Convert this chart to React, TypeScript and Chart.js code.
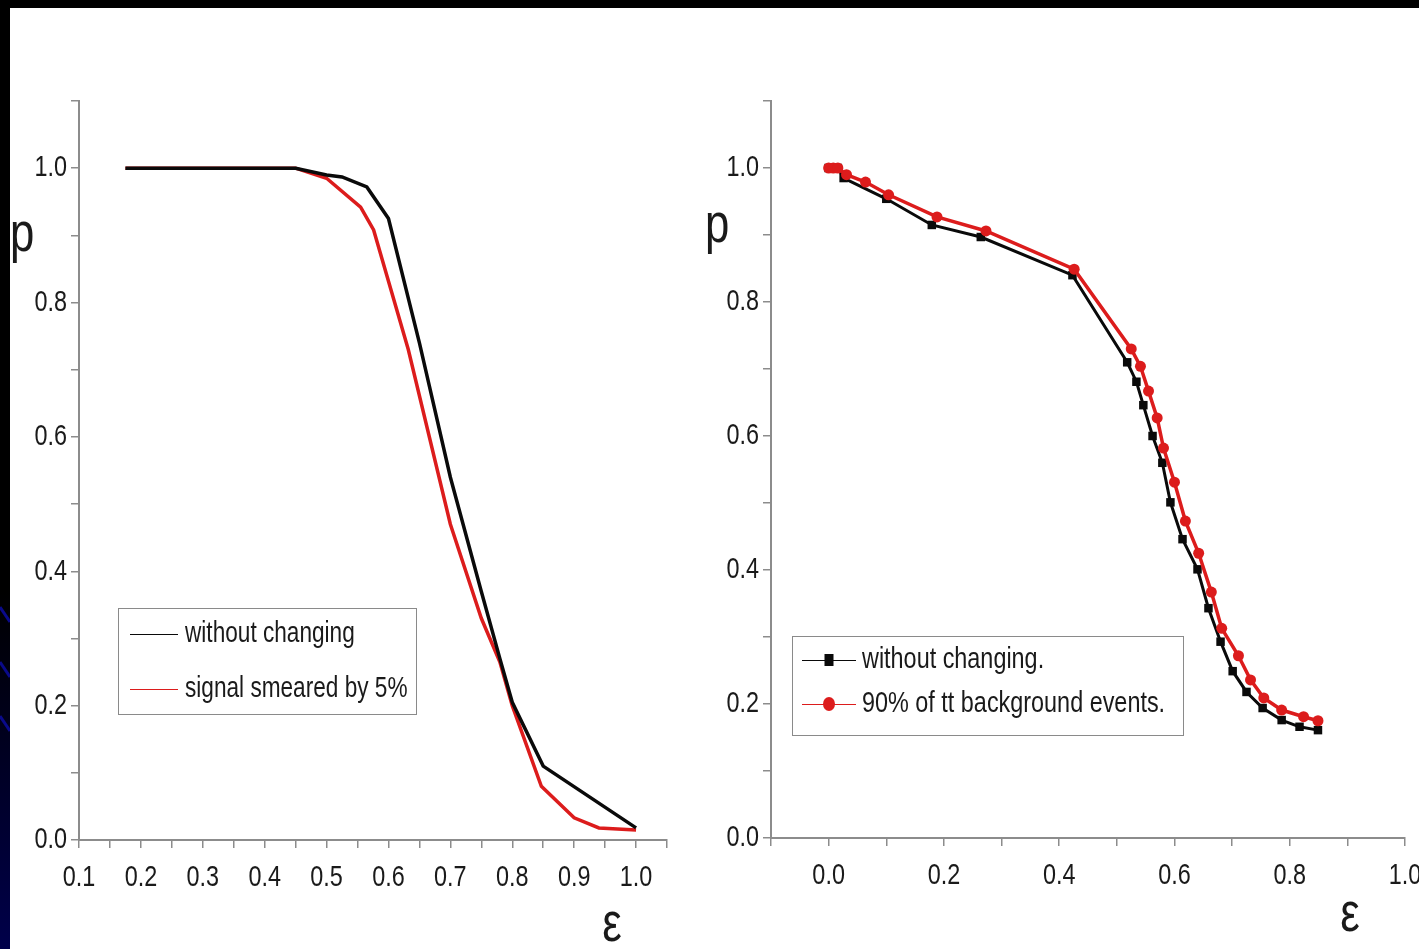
import React, { useEffect, useRef } from "react";
import { Chart, registerables } from "chart.js";
Chart.register(...registerables);

// ---------- data: left panel ----------
const leftBlackX = [0.175, 0.45, 0.5, 0.525, 0.565, 0.6, 0.65, 0.7, 0.75, 0.78, 0.8, 0.85, 1.0];
const leftBlackY = [1.0, 1.0, 0.99, 0.987, 0.972, 0.925, 0.74, 0.54, 0.37, 0.27, 0.205, 0.11, 0.018];
const leftRedX = [0.175, 0.45, 0.5, 0.555, 0.576, 0.632, 0.7, 0.75, 0.78, 0.8, 0.847, 0.9, 0.94, 1.0];
const leftRedY = [1.0, 1.0, 0.985, 0.942, 0.908, 0.73, 0.47, 0.33, 0.265, 0.2, 0.08, 0.033, 0.018, 0.015];
const leftLabels = ["without changing", "signal smeared by 5%"];

// ---------- data: right panel ----------
const rightBlackX = [0.0, 0.008, 0.016, 0.026, 0.1, 0.179, 0.264, 0.423, 0.518, 0.534, 0.546, 0.562, 0.579, 0.593, 0.614, 0.64, 0.659, 0.68, 0.701, 0.725, 0.753, 0.786, 0.817, 0.849];
const rightBlackY = [1.0, 1.0, 1.0, 0.985, 0.954, 0.915, 0.897, 0.84, 0.71, 0.681, 0.646, 0.6, 0.56, 0.501, 0.446, 0.401, 0.343, 0.293, 0.249, 0.218, 0.194, 0.176, 0.166, 0.161];
const rightRedX = [0.0, 0.008, 0.016, 0.031, 0.064, 0.104, 0.188, 0.273, 0.426, 0.525, 0.541, 0.555, 0.57, 0.581, 0.6, 0.619, 0.642, 0.664, 0.682, 0.711, 0.732, 0.755, 0.786, 0.824, 0.849];
const rightRedY = [1.0, 1.0, 1.0, 0.99, 0.979, 0.96, 0.927, 0.906, 0.849, 0.73, 0.704, 0.667, 0.627, 0.582, 0.531, 0.473, 0.425, 0.367, 0.313, 0.272, 0.236, 0.209, 0.191, 0.181, 0.175];
const rightLabels = ["without changing.", "90% of tt background events."];

const yTickLabels = ["0.0", "0.2", "0.4", "0.6", "0.8", "1.0"];
const leftXTickLabels = ["0.1", "0.2", "0.3", "0.4", "0.5", "0.6", "0.7", "0.8", "0.9", "1.0"];
const rightXTickLabels = ["0.0", "0.2", "0.4", "0.6", "0.8", "1.0"];

const FONT = '"Liberation Sans", Arial, Helvetica, sans-serif';
const SX = 0.78; // horizontal condensing of all text (narrow Arial look)
const BLACK = "#0a0a0a";
const RED = "#dc1c1c";
const AXIS = "#8c8c8c";
const TEXT = "#1a1a1a";

const zip = (xs: number[], ys: number[]) => xs.map((x, i) => ({ x, y: ys[i] }));

function labelFor(list: string[]) {
  return (v: number | string) => {
    const s = Number(v).toFixed(1);
    const isTenth = Math.abs(Number(v) * 10 - Math.round(Number(v) * 10)) < 1e-6;
    return isTenth && list.includes(s) ? s : "";
  };
}

type LegendCfg = {
  box: [number, number, number, number];
  rows: number[];
  lineX: [number, number];
  markerX: number | null;
  textX: number;
  fontSize: number;
};

function decorPlugin(opts: {
  legend: LegendCfg;
  p: [number, number, number];
  eps: [number, number, number];
}) {
  return {
    id: "decor",
    beforeDraw(chart: any) {
      const ctx: any = chart.ctx;
      const orig = CanvasRenderingContext2D.prototype.fillText;
      ctx.fillText = function (text: string, x: number, y: number) {
        this.save();
        this.translate(x, y);
        this.scale(SX, 1);
        orig.call(this, text, 0, 0);
        this.restore();
      };
    },
    afterDraw(chart: any) {
      const ctx: CanvasRenderingContext2D = chart.ctx;
      ctx.save();
      // axis titles
      ctx.fillStyle = TEXT;
      ctx.textAlign = "left";
      ctx.textBaseline = "alphabetic";
      ctx.font = `${opts.p[2]}px ${FONT}`;
      ctx.fillText("p", opts.p[0], opts.p[1]);
      ctx.font = `${opts.eps[2]}px ${FONT}`;
      ctx.textAlign = "center";
      ctx.fillText("\u03B5", opts.eps[0], opts.eps[1]);
      // legend
      const L = opts.legend;
      const [bx, by, bw, bh] = L.box;
      ctx.fillStyle = "#fff";
      ctx.fillRect(bx, by, bw, bh);
      ctx.strokeStyle = "#8a8a8a";
      ctx.lineWidth = 1;
      ctx.strokeRect(bx + 0.5, by + 0.5, bw, bh);
      chart.data.datasets.forEach((ds: any, i: number) => {
        const y = L.rows[i];
        ctx.strokeStyle = ds.borderColor;
        ctx.lineWidth = 1;
        ctx.beginPath();
        ctx.moveTo(L.lineX[0], y + 0.5);
        ctx.lineTo(L.lineX[1], y + 0.5);
        ctx.stroke();
        if (L.markerX !== null) {
          ctx.fillStyle = ds.pointBackgroundColor;
          if (ds.pointStyle === "rect") {
            ctx.fillRect(L.markerX - 4.5, y - 6, 9, 12);
          } else {
            ctx.beginPath();
            ctx.ellipse(L.markerX, y, 6, 7, 0, 0, Math.PI * 2);
            ctx.fill();
          }
        }
        ctx.fillStyle = TEXT;
        ctx.font = `${L.fontSize}px ${FONT}`;
        ctx.textAlign = "left";
        ctx.textBaseline = "middle";
        ctx.fillText(ds.label, L.textX, y);
      });
      ctx.restore();
      delete (ctx as any).fillText;
    },
  };
}

function makeScales(
  xMin: number,
  xMax: number,
  xStep: number,
  xLabels: string[],
  yAxisWidth: number,
  xAxisHeight: number
) {
  const tickFont = { family: FONT, size: 30 };
  return {
    x: {
      type: "linear",
      min: xMin,
      max: xMax,
      afterFit: (s: any) => {
        s.height = xAxisHeight;
      },
      afterBuildTicks: (s: any) => {
        const t = [];
        const n = Math.round((xMax - xMin) / xStep);
        for (let i = 0; i <= n; i++) t.push({ value: +(xMin + i * xStep).toFixed(4) });
        s.ticks = t;
      },
      ticks: {
        callback: labelFor(xLabels),
        autoSkip: false,
        maxRotation: 0,
        padding: 12,
        color: TEXT,
        font: tickFont,
      },
      grid: { drawOnChartArea: false, drawTicks: true, tickLength: 8, color: AXIS, lineWidth: 1.5 },
      border: { display: true, color: AXIS, width: 2 },
    },
    y: {
      type: "linear",
      min: 0,
      max: 1.1,
      afterFit: (s: any) => {
        s.width = yAxisWidth;
      },
      afterBuildTicks: (s: any) => {
        const t = [];
        for (let i = 0; i <= 11; i++) t.push({ value: +(i * 0.1).toFixed(4) });
        s.ticks = t;
      },
      ticks: {
        callback: labelFor(yTickLabels),
        autoSkip: false,
        padding: 4,
        color: TEXT,
        font: tickFont,
      },
      grid: { drawOnChartArea: false, drawTicks: true, tickLength: 8, color: AXIS, lineWidth: 1.5 },
      border: { display: true, color: AXIS, width: 2 },
    },
  };
}

function LeftChart() {
  const ref = useRef<HTMLCanvasElement>(null);
  useEffect(() => {
    const chart = new Chart(ref.current!, {
      type: "scatter",
      data: {
        datasets: [
          {
            label: leftLabels[0],
            data: zip(leftBlackX, leftBlackY),
            showLine: true,
            borderColor: BLACK,
            backgroundColor: BLACK,
            pointBackgroundColor: BLACK,
            borderWidth: 3.5,
            pointRadius: 0,
            tension: 0,
          },
          {
            label: leftLabels[1],
            data: zip(leftRedX, leftRedY),
            showLine: true,
            borderColor: RED,
            backgroundColor: RED,
            pointBackgroundColor: RED,
            borderWidth: 3.5,
            pointRadius: 0,
            tension: 0,
          },
        ],
      },
      options: {
        responsive: false,
        animation: false,
        layout: { padding: { top: 93, right: 33, left: 0, bottom: 0 } },
        plugins: { legend: { display: false }, tooltip: { enabled: false } },
        scales: makeScales(0.1, 1.05, 0.05, leftXTickLabels, 69, 109) as any,
      },
      plugins: [
        decorPlugin({
          legend: { box: [108, 600, 298, 106], rows: [626, 681], lineX: [120, 168], markerX: null, textX: 175, fontSize: 29 },
          p: [0, 243, 56],
          eps: [602, 933, 56],
        }),
      ],
    } as any);
    return () => chart.destroy();
  }, []);
  return (
    <canvas
      ref={ref}
      width={690}
      height={941}
      style={{ position: "absolute", left: 10, top: 8, width: 690, height: 941 }}
    />
  );
}

function RightChart() {
  const ref = useRef<HTMLCanvasElement>(null);
  useEffect(() => {
    const chart = new Chart(ref.current!, {
      type: "scatter",
      data: {
        datasets: [
          {
            label: rightLabels[0],
            data: zip(rightBlackX, rightBlackY),
            showLine: true,
            borderColor: BLACK,
            backgroundColor: BLACK,
            pointBackgroundColor: BLACK,
            pointBorderColor: BLACK,
            pointStyle: "rect",
            pointRadius: 6,
            pointBorderWidth: 0,
            borderWidth: 3,
            tension: 0,
            order: 2,
          },
          {
            label: rightLabels[1],
            data: zip(rightRedX, rightRedY),
            showLine: true,
            borderColor: RED,
            backgroundColor: RED,
            pointBackgroundColor: RED,
            pointBorderColor: RED,
            pointStyle: "circle",
            pointRadius: 5.5,
            pointBorderWidth: 0,
            borderWidth: 3.5,
            tension: 0,
            order: 1,
          },
        ],
      },
      options: {
        responsive: false,
        animation: false,
        layout: { padding: { top: 93, right: 35, left: 0, bottom: 0 } },
        plugins: { legend: { display: false }, tooltip: { enabled: false } },
        scales: makeScales(-0.1, 1.0, 0.1, rightXTickLabels, 71, 111) as any,
      },
      plugins: [
        decorPlugin({
          legend: { box: [92, 628, 391, 99], rows: [652, 696], lineX: [102, 156], markerX: 129, textX: 162, fontSize: 30 },
          p: [5, 234, 56],
          eps: [650, 923, 56],
        }),
      ],
    } as any);
    return () => chart.destroy();
  }, []);
  return (
    <canvas
      ref={ref}
      width={740}
      height={941}
      style={{ position: "absolute", left: 700, top: 8, width: 740, height: 941 }}
    />
  );
}

export default function App() {
  return (
    <div
      style={{
        position: "fixed",
        left: 0,
        top: 0,
        width: 1419,
        height: 949,
        background: "#000",
        overflow: "hidden",
      }}
    >
      <div
        style={{
          position: "absolute",
          left: 0,
          top: 8,
          width: 10,
          height: 941,
          background: "linear-gradient(#000 0%, #000 62%, #00004a 100%)",
        }}
      />
      <svg style={{ position: "absolute", left: 0, top: 0 }} width={10} height={949}>
        <line x1={0} y1={607} x2={10} y2={622} stroke="#0a0a8a" strokeWidth={3} />
        <line x1={0} y1={662} x2={10} y2={677} stroke="#0a0a8a" strokeWidth={3} />
        <line x1={0} y1={716} x2={10} y2={731} stroke="#0a0a8a" strokeWidth={3} />
      </svg>
      <div style={{ position: "absolute", left: 10, top: 8, width: 1409, height: 941, background: "#fff" }} />
      <LeftChart />
      <RightChart />
    </div>
  );
}
